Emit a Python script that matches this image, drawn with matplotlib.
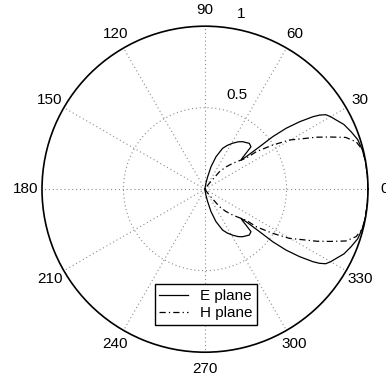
import numpy as np
import matplotlib
matplotlib.use("Agg")
import matplotlib.pyplot as plt

plt.rcParams['font.family'] = ['Liberation Sans', 'DejaVu Sans']

# Normalised far-field patterns (upper half, degrees); the lower half is symmetric
e_deg = [0, 5, 10, 14, 18, 21.5, 25, 27.8, 30, 31.7, 32.9, 33.9, 35.5, 36.9,
         37.8, 37.9, 38.3, 38.9, 40, 41.2, 42.7, 46, 51.6, 55, 59, 63, 66.7,
         71.3, 75, 78, 81, 85, 90]
e_r = [1.0, 1.0, 0.999, 0.995, 0.985, 0.963, 0.94, 0.91, 0.89, 0.87, 0.837,
       0.797, 0.712, 0.623, 0.526, 0.424, 0.322, 0.285, 0.3, 0.334, 0.384,
       0.391, 0.372, 0.355, 0.329, 0.302, 0.273, 0.21, 0.143, 0.078, 0.04,
       0.012, 0.0]

h_deg = [0, 5, 10, 14, 17.4, 20.2, 22.7, 25, 27.5, 30.2, 33.1, 36.2, 37, 40,
         43, 47, 50.4, 54, 58, 62, 90]
h_r = [1.0, 1.0, 0.999, 0.996, 0.972, 0.92, 0.83, 0.755, 0.67, 0.6, 0.496,
       0.39, 0.316, 0.27, 0.233, 0.185, 0.139, 0.045, 0.01, 0.0, 0.0]

angle_ticks = [0, 30, 60, 90, 120, 150, 180, 210, 240, 270, 300, 330]
radial_ticks = [0.5, 1]


def full_pattern(deg, r):
    deg = np.asarray(deg, dtype=float)
    r = np.asarray(r, dtype=float)
    th = np.concatenate([-deg[::-1], deg[1:]])
    rr = np.concatenate([r[::-1], r[1:]])
    return np.deg2rad(th), rr


fig = plt.figure(figsize=(3.86, 3.83), dpi=100)
ax = fig.add_axes([0.1088, 0.0804, 0.8446, 0.8512], projection='polar')
ax.set_ylim(0, 1)
ax.set_theta_zero_location('E')

# grid: dotted spokes every 30 degrees and one inner circle
ax.set_thetagrids(angle_ticks, labels=[''] * len(angle_ticks))
ax.set_rgrids([0.5], labels=[''])
ax.grid(True, linestyle=(0, (1, 2.5)), color='#8c8c8c', linewidth=0.8)
ax.spines['polar'].set_color('black')
ax.spines['polar'].set_linewidth(1.2)
ax.tick_params(length=0)

for a in angle_ticks:
    ax.text(np.deg2rad(a), 1.10, str(a), ha='center', va='center',
            fontsize=11, clip_on=False)

ax.text(np.deg2rad(71), 0.611, str(radial_ticks[0]), ha='center', va='center',
        fontsize=11)
ax.text(np.deg2rad(78.3), 1.10, str(radial_ticks[1]), ha='center', va='center',
        fontsize=11, clip_on=False)

th_e, r_e = full_pattern(e_deg, e_r)
th_h, r_h = full_pattern(h_deg, h_r)
ax.plot(th_e, r_e, color='black', linewidth=0.9, label='E plane')
ax.plot(th_h, r_h, color='black', linewidth=0.9,
        linestyle=(0, (5, 2.5, 1, 2.5)), label='H plane')

leg = fig.legend(loc='center', bbox_to_anchor=(0.5337, 0.205), fontsize=11,
                 handlelength=1.9, handletextpad=0.8, borderpad=0.3,
                 labelspacing=0.2, fancybox=False, framealpha=1,
                 edgecolor='black')
leg.get_frame().set_linewidth(1.0)

fig.savefig('out.png', dpi=100)
